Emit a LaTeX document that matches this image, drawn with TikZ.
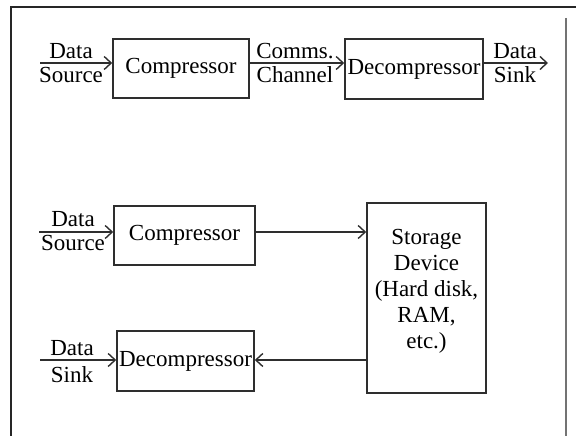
\documentclass[tikz,border=0pt]{standalone}
\usepackage{fontspec}
\setmainfont{Liberation Serif}
\usetikzlibrary{arrows.meta}
\begin{document}
\begin{tikzpicture}[x=1pt,y=-1pt,
  txt/.style={inner sep=0pt, font=\fontsize{23}{26}\selectfont, text=black},
  lbl/.style={txt, anchor=base},
  blk/.style={draw=black!82, line width=1.6pt, inner sep=0pt, txt},
  arr/.style={draw=black!82, line width=1.4pt, -{Straight Barb[length=7pt,width=13pt]}},
  wire/.style={draw=black!82, line width=1.4pt}]
\useasboundingbox (0,0) rectangle (576,436);

% page frame
\draw[line width=2pt, black!85] (10,7) -- (576,7);
\draw[line width=2pt, black!85] (11,7) -- (11,436);
\draw[line width=1.3pt, black!55] (566,18) -- (566,436);

% ---- transmission over a channel ----
\node[blk, minimum width=136, minimum height=59] (c1) at (181,68.5) {Compressor};
\node[blk, minimum width=138, minimum height=60] (d1) at (414,69) {Decompressor};

\coordinate (s1) at (40,63);
\coordinate (k1) at (548,63);
\draw[arr] (s1) -- (c1.west |- s1);
\draw[arr] (c1.east |- s1) -- (d1.west |- s1);
\draw[arr] (d1.east |- k1) -- (k1);

\node[lbl] (s1a) at (71,59) {Data};
\node[lbl] (s1b) at (71,83) {Source};
\node[lbl] (ch1) at (295,59) {Comms.};
\node[lbl] (ch2) at (295,83) {Channel};
\node[lbl] (k1a) at (515,59) {Data};
\node[lbl] (k1b) at (515,83) {Sink};

% ---- storage on a device ----
\node[blk, minimum width=141, minimum height=59] (c2) at (184.5,235.5) {Compressor};
\node[blk, minimum width=119, minimum height=190] (st) at (426.5,298) {};
\node[txt, align=center] (stl) at ([yshift=6.5pt]st.center)
  {Storage\\Device\\(Hard disk,\\RAM,\\etc.)};
\node[blk, minimum width=137, minimum height=60] (d2) at (185.5,361) {Decompressor};

\coordinate (s2) at (39,232);
\coordinate (k2) at (40,360);
\draw[arr] (s2) -- (c2.west |- s2);
\draw[arr] (c2.east |- s2) -- (st.west |- s2);
\draw[arr] (st.west |- k2) -- (d2.east |- k2);
\draw[arr] (k2) -- (d2.west |- k2);

\node[lbl] (s2a) at (73,226) {Data};
\node[lbl] (s2b) at (73,250) {Source};
\node[lbl] (k2a) at (72,355) {Data};
\node[lbl] (k2b) at (72,382) {Sink};
\end{tikzpicture}
\end{document}
